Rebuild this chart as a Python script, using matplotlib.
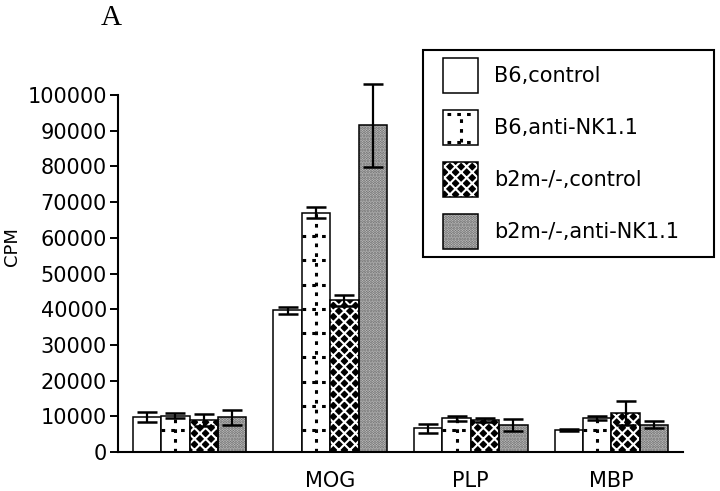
import numpy as np
import matplotlib
matplotlib.use("Agg")
import matplotlib.pyplot as plt
from matplotlib.patches import Rectangle
from matplotlib.lines import Line2D
from matplotlib.legend_handler import HandlerBase, HandlerTuple

# ---- data ----
categories = ["", "MOG", "PLP", "MBP"]
series = ["B6,control", "B6,anti-NK1.1", "b2m-/-,control", "b2m-/-,anti-NK1.1"]
b6_control = [9700, 39700, 6600, 6200]
b6_control_err = [1400, 1000, 1300, 300]
b6_antink = [10200, 67000, 9500, 9500]
b6_antink_err = [600, 1500, 700, 500]
b2m_control = [9000, 42500, 8900, 11000]
b2m_control_err = [1700, 1500, 600, 3300]
b2m_antink = [9700, 91500, 7600, 7700]
b2m_antink_err = [2200, 11700, 1600, 900]
yticks = list(range(0, 100001, 10000))

values = [b6_control, b6_antink, b2m_control, b2m_antink]
errors = [b6_control_err, b6_antink_err, b2m_control_err, b2m_antink_err]

plt.rcParams['font.family'] = ['DejaVu Sans']
plt.rcParams['hatch.linewidth'] = 1.5

fig = plt.figure(figsize=(7.2, 4.91), dpi=100)
ax = fig.add_axes([118/720, 1-452/491, (683-118)/720, (452-95)/491])

x = np.arange(len(categories))
w = 0.202
offsets = (np.arange(4) - 1.5) * w
lw_edge = 1.1
dl = (0, (1.2, 2.0))

# series 1: white
ax.bar(x + offsets[0], b6_control, w, color="white", edgecolor="black", linewidth=lw_edge, zorder=2)
# series 2: white with dotted lines
bars2 = ax.bar(x + offsets[1], b6_antink, w, color="white", edgecolor="black", linewidth=lw_edge, zorder=2)
for rect in bars2:
    cx = rect.get_x() + rect.get_width() / 2
    h = rect.get_height()
    vl, = ax.plot([cx, cx], [0, h], color="black", ls=dl, lw=2.2, zorder=3)
    vl.set_clip_path(rect)
    levels = np.arange(6100, h, 6800)
    for lv in levels:
        hl, = ax.plot([rect.get_x(), rect.get_x() + rect.get_width()], [lv, lv],
                      color="black", ls=dl, lw=2.2, zorder=3)
        hl.set_clip_path(rect)
# series 3: black with white pattern
bars3a = ax.bar(x + offsets[2], b2m_control, w, color="black", edgecolor="white", hatch="xxx",
                linewidth=0, zorder=2)
bars3b = ax.bar(x + offsets[2], b2m_control, w, fill=False, edgecolor="black", linewidth=lw_edge, zorder=3)
# series 4: fine stipple grey
bars4a = ax.bar(x + offsets[3], b2m_antink, w, color="#d0d0d0", edgecolor="#606060", hatch="......",
                linewidth=0, zorder=2)
bars4b = ax.bar(x + offsets[3], b2m_antink, w, fill=False, edgecolor="black", linewidth=lw_edge, zorder=3)

for i in range(4):
    eb = ax.errorbar(x + offsets[i], values[i], yerr=errors[i], fmt="none", ecolor="black",
                     elinewidth=1.6, capsize=7, capthick=1.8, zorder=5)
    for art in eb.lines[1] + eb.lines[2]:
        art.set_clip_on(False)

ax.set_xlim(-0.51, 3.51)
ax.set_ylim(0, 100000)
ax.set_yticks(yticks)
ax.set_yticklabels([str(t) for t in yticks], fontsize=15)
ax.set_xticks(x)
ax.set_xticklabels(categories, fontsize=15)
ax.tick_params(axis="x", length=0, pad=14)
ax.tick_params(axis="y", length=6, width=1.4, pad=2, direction="out")
for s in ["top", "right"]:
    ax.spines[s].set_visible(False)
for s in ["left", "bottom"]:
    ax.spines[s].set_linewidth(1.5)
ax.set_ylabel("CPM", fontsize=13)
ax.yaxis.set_label_coords((21 - 118) / 565, (452 - 247) / 357)

fig.text(111/720, 1-25/491, "A", family="Liberation Serif", fontsize=21, ha="center", va="baseline")


class DottedHandler(HandlerBase):
    def create_artists(self, legend, orig_handle, xdescent, ydescent, width, height, fontsize, trans):
        x0, y0 = -xdescent, -ydescent
        arts = [Rectangle((x0, y0), width, height, fc="white", ec="black", lw=lw_edge, transform=trans)]
        arts.append(Line2D([x0 + width / 2] * 2, [y0 + 0.08 * height, y0 + 0.92 * height], color="black",
                           ls=dl, lw=2.2, transform=trans))
        for yy in (y0 + 0.88 * height, y0 + 0.1 * height):
            arts.append(Line2D([x0 + 0.1 * width, x0 + 0.9 * width], [yy, yy], color="black",
                               ls=dl, lw=2.2, transform=trans))
        return arts


# legend frame
fig.add_artist(Rectangle((423/720, 1-257/491), (714-423)/720, (257-50)/491, transform=fig.transFigure,
                         fc="white", ec="black", lw=1.5, zorder=4))

h1 = Rectangle((0, 0), 1, 1, fc="white", ec="black", lw=lw_edge)
h2 = Rectangle((0, 0), 1, 1, fc="white", ec="black", lw=lw_edge)
handles = [h1, h2, (bars3a.patches[0], bars3b.patches[0]), (bars4a.patches[0], bars4b.patches[0])]
leg = fig.legend(handles, series, loc="upper left", bbox_to_anchor=(443/720, 1-58/491),
                 bbox_transform=fig.transFigure, fontsize=15, frameon=False,
                 handlelength=1.68, handleheight=2.21, handletextpad=0.77,
                 labelspacing=0.82, borderpad=0, borderaxespad=0,
                 handler_map={h2: DottedHandler(), tuple: HandlerTuple(ndivide=1)})
leg.set_zorder(5)

fig.savefig("out.png", dpi=100)
